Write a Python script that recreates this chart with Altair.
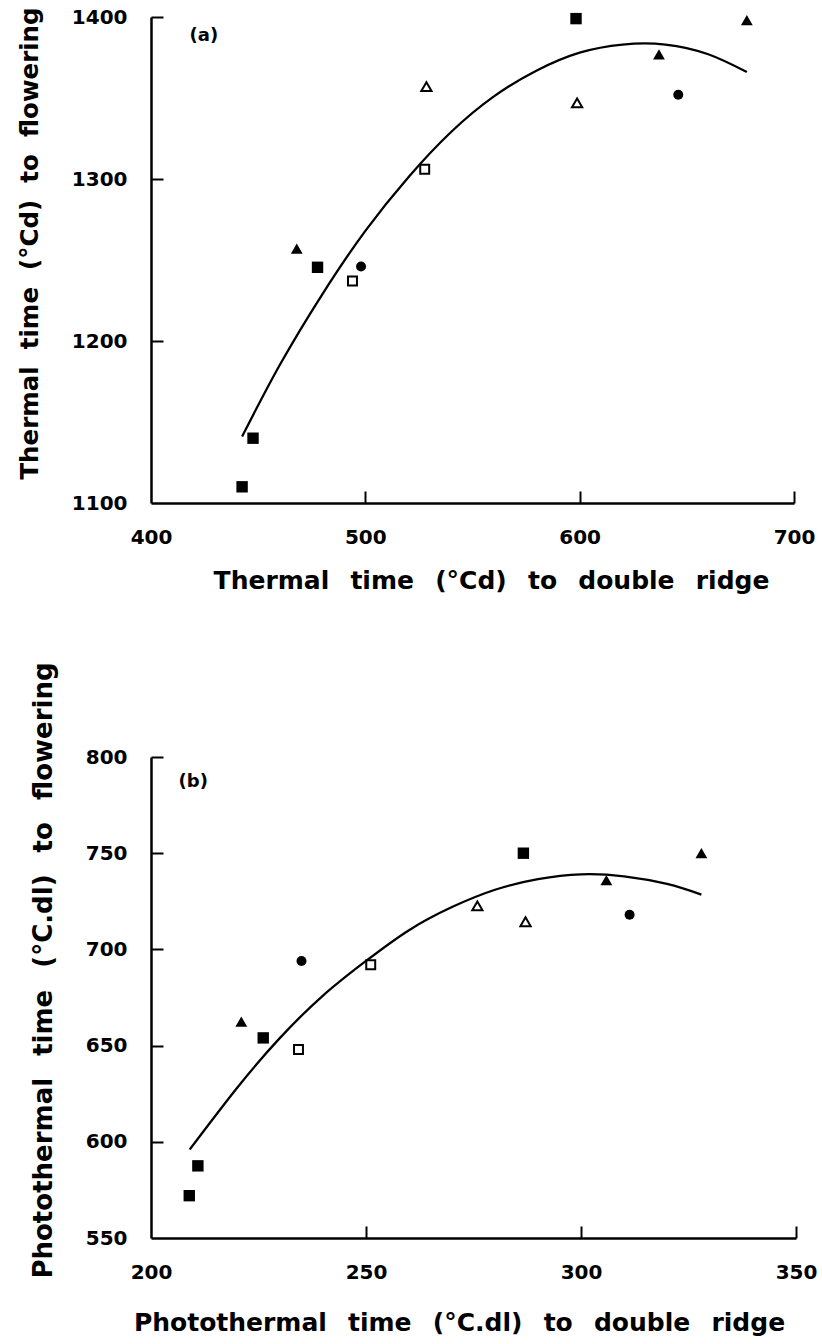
import altair as alt
import pandas as pd

TFONT = "DejaVu Sans"
GAP = " \u2002"

# ---------------- Panel (a) ----------------
a_fsq_x = [442.5, 447.6, 477.7, 598.3]
a_fsq_y = [1110, 1140, 1245.5, 1399]
a_osq_x = [494, 527.7]
a_osq_y = [1237, 1306]
a_ftri_x = [468, 637, 678]
a_ftri_y = [1257, 1377, 1398]
a_otri_x = [528.5, 598.8]
a_otri_y = [1357, 1347]
a_fcir_x = [498, 646]
a_fcir_y = [1246, 1352]
a_curve_x = [442.5, 460, 480, 500, 520, 540, 560, 580, 600, 620, 640, 660, 678]
a_curve_y = [1141, 1185, 1229, 1268, 1301, 1329, 1351, 1367, 1378, 1383, 1383, 1377, 1366]
a_xticks = [400, 500, 600, 700]
a_yticks = [1100, 1200, 1300, 1400]
a_label = ["(a)"]
a_label_x = [418]
a_label_y = [1388]
a_xtitle = GAP.join(["Thermal", "time", "(°Cd)", "to", "double", "ridge"])
a_ytitle = "\u00a0 ".join(["Thermal", "time", "(°Cd)", "to", "flowering"])

# ---------------- Panel (b) ----------------
b_fsq_x = [208.9, 210.9, 226.1, 286.6]
b_fsq_y = [572, 587.5, 654, 750]
b_osq_x = [234.3, 251.1]
b_osq_y = [648, 692]
b_ftri_x = [221, 305.9, 328]
b_ftri_y = [662.5, 736, 750]
b_otri_x = [275.9, 287.1]
b_otri_y = [722.6, 714.4]
b_fcir_x = [235, 311.3]
b_fcir_y = [694, 718]
b_curve_x = [209, 220, 230, 240, 250, 260, 270, 280, 290, 300, 310, 320, 328]
b_curve_y = [596, 628, 654, 676, 694, 710, 722, 731, 736.5, 739, 738, 734, 728.5]
b_xticks = [200, 250, 300, 350]
b_yticks = [550, 600, 650, 700, 750, 800]
b_label = ["(b)"]
b_label_x = [206.4]
b_label_y = [787]
b_xtitle = GAP.join(["Photothermal", "time", "(°C.dl)", "to", "double", "ridge"])
b_ytitle = GAP.join(["Photothermal", "time", "(°C.dl)", "to", "flowering"])


def panel(W, H, xdom, ydom, xt, yt, fsq, osq, ftri, otri, fcir, curve, lab,
          xtitle, ytitle, xtitle_x, ytitle_y, ytitle_size, xtitle_pad):
    xs = alt.Scale(domain=xdom, nice=False, zero=False)
    ys = alt.Scale(domain=ydom, nice=False, zero=False)

    main_x = alt.Axis(values=xt, ticks=False, tickSize=0, labelPadding=24,
                      domainWidth=2.5, domainColor="black", title=xtitle,
                      titlePadding=xtitle_pad, titleX=xtitle_x, titleFontSize=25,
                      labelFlush=False, labelOverlap=False, format="d")
    main_y = alt.Axis(values=yt, ticks=False, tickSize=0, labelPadding=24,
                      domainWidth=2.5, domainColor="black", title=ytitle,
                      titlePadding=29, titleY=ytitle_y, titleFontSize=ytitle_size,
                      labelFlush=False, labelOverlap=False, format="d")
    tick_x = alt.Axis(orient="top", offset=-H, values=xt[1:], labels=False,
                      domain=False, ticks=True, tickSize=12, tickWidth=2,
                      tickColor="black", title=None, grid=False)
    tick_y = alt.Axis(orient="right", offset=-W, values=yt[1:], labels=False,
                      domain=False, ticks=True, tickSize=12, tickWidth=2,
                      tickColor="black", title=None, grid=False)

    def df(xy):
        return pd.DataFrame({"x": xy[0], "y": xy[1]})

    l_fsq = alt.Chart(df(fsq)).mark_point(shape="square", filled=True, color="black",
                                          size=130, opacity=1).encode(
        x=alt.X("x:Q", scale=xs, axis=main_x), y=alt.Y("y:Q", scale=ys, axis=main_y))
    l_osq = alt.Chart(df(osq)).mark_point(shape="square", filled=False, color="black",
                                          size=80, strokeWidth=2, opacity=1).encode(
        x=alt.X("x:Q", scale=xs, axis=None), y=alt.Y("y:Q", scale=ys, axis=None))
    l_ftri = alt.Chart(df(ftri)).mark_point(shape="triangle-up", filled=True, color="black",
                                            size=140, opacity=1).encode(
        x=alt.X("x:Q", scale=xs, axis=None), y=alt.Y("y:Q", scale=ys, axis=None))
    l_otri = alt.Chart(df(otri)).mark_point(shape="triangle-up", filled=False, color="black",
                                            size=105, strokeWidth=2, opacity=1).encode(
        x=alt.X("x:Q", scale=xs, axis=None), y=alt.Y("y:Q", scale=ys, axis=None))
    l_fcir = alt.Chart(df(fcir)).mark_point(shape="circle", filled=True, color="black",
                                            size=100, opacity=1).encode(
        x=alt.X("x:Q", scale=xs, axis=None), y=alt.Y("y:Q", scale=ys, axis=None))
    l_curve = alt.Chart(df(curve)).mark_line(color="black", strokeWidth=2.3,
                                             interpolate="natural").encode(
        x=alt.X("x:Q", scale=xs, axis=tick_x), y=alt.Y("y:Q", scale=ys, axis=tick_y))
    ldf = pd.DataFrame({"x": lab[1], "y": lab[2], "t": lab[0]})
    l_lab = alt.Chart(ldf).mark_text(align="left", baseline="middle", font=TFONT,
                                     fontSize=18, fontWeight="bold", color="black").encode(
        x=alt.X("x:Q", scale=xs, axis=None), y=alt.Y("y:Q", scale=ys, axis=None), text="t:N")

    return alt.layer(l_curve, l_fsq, l_osq, l_ftri, l_otri, l_fcir, l_lab).resolve_axis(
        x="independent", y="independent").properties(width=W, height=H)


pa = panel(643, 486, [400, 700], [1100, 1400], a_xticks, a_yticks,
           (a_fsq_x, a_fsq_y), (a_osq_x, a_osq_y), (a_ftri_x, a_ftri_y),
           (a_otri_x, a_otri_y), (a_fcir_x, a_fcir_y), (a_curve_x, a_curve_y),
           (a_label, a_label_x, a_label_y), a_xtitle, a_ytitle, 340, 226, 24.5, 21)
pb = panel(645, 481, [200, 350], [550, 800], b_xticks, b_yticks,
           (b_fsq_x, b_fsq_y), (b_osq_x, b_osq_y), (b_ftri_x, b_ftri_y),
           (b_otri_x, b_otri_y), (b_fcir_x, b_fcir_y), (b_curve_x, b_curve_y),
           (b_label, b_label_x, b_label_y), b_xtitle, b_ytitle, 308, 213, 26, 28)

chart = alt.vconcat(pa, pb, spacing=254, bounds="flush").properties(
    padding={"left": 17, "top": 6, "right": 2, "bottom": 2},
    background="white",
).configure_view(stroke=None).configure_axis(
    labelFont=TFONT, labelFontWeight="bold", labelFontSize=20, labelColor="black",
    titleFont=TFONT, titleFontWeight="bold", titleColor="black", grid=False,
)

chart.save("out.html", embed_options={"renderer": "svg", "actions": False})
